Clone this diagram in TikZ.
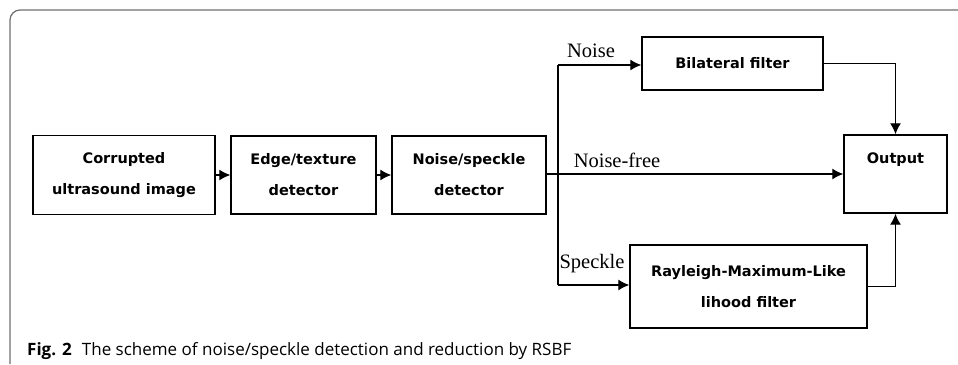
\documentclass[tikz,border=0pt]{standalone}
\usepackage{fontspec}
\usepackage{xcolor}
\usetikzlibrary{arrows.meta}
\newfontfamily\boxfont{DejaVu Sans}[BoldFont={DejaVu Sans Bold}]
\newfontfamily\labfont{Liberation Serif}
\newfontfamily\capfont{Open Sans}
\definecolor{framegray}{RGB}{110,110,110}
\tikzset{
  blk/.style={draw, line width=1.4pt, inner sep=0pt, align=center,
    font=\boxfont\bfseries\fontsize{14.5}{31}\selectfont},
  lab/.style={inner sep=0pt, font=\labfont\fontsize{20.5}{22}\selectfont},
  flow/.style={->, >={Latex[length=11pt,width=11pt]}, line width=1.3pt}
}

\begin{document}
\begin{tikzpicture}[x=1pt,y=-1pt]
\useasboundingbox (0,0) rectangle (958,364);
\draw [framegray, line width=1.2pt, rounded corners=10pt] (10,364) |- (958,10);
\node [blk, minimum width=182pt, minimum height=79pt] (corr) at (124,175) {Corrupted\\ultrasound image};
\node [blk, minimum width=145pt, minimum height=78pt] (edge) at (303.5,175) {Edge/texture\\detector};
\node [blk, minimum width=154pt, minimum height=78pt] (det) at (469,175) {Noise/speckle\\detector};
\node [blk, minimum width=181pt, minimum height=53pt] (bil) at (732.5,63.5) {Bilateral filter};
\node [blk, minimum width=103pt, minimum height=78pt] (out) at (895.5,174) {Output\\\phantom{O}};
\node [blk, minimum width=237pt, minimum height=83pt] (ray) at (748.5,286.5) {Rayleigh-Maximum-Like\\lihood filter};
\coordinate (split) at (558,174);
\coordinate (up) at (558,65);
\coordinate (down) at (558,285);
\node [lab] (noise) at (591,51) {Noise};
\node [lab] (free) at (617,160) {Noise-free};
\node [lab] (speck) at (592,264) {Speckle};
\draw [flow](corr)--(edge);
\draw [flow](edge)--(det);
\draw [line width=1.3pt](det.east |- split)--(split);
\draw [line width=1.3pt](up)--(down);
\draw [flow](up)--(bil.west |- up);
\draw [flow](split)--(out.west |- split);
\draw [flow](down)--(ray.west |- down);
\draw [flow](bil.east)-|(out.north);
\draw [flow](ray.east)-|(out.south);
\node [anchor=base west, inner sep=0pt, font=\capfont\fontsize{17}{20}\selectfont] (cap) at (27,355)
  {\textbf{Fig. 2}\hspace{0.6em}The scheme of noise/speckle detection and reduction by RSBF};
\end{tikzpicture}
\end{document}
